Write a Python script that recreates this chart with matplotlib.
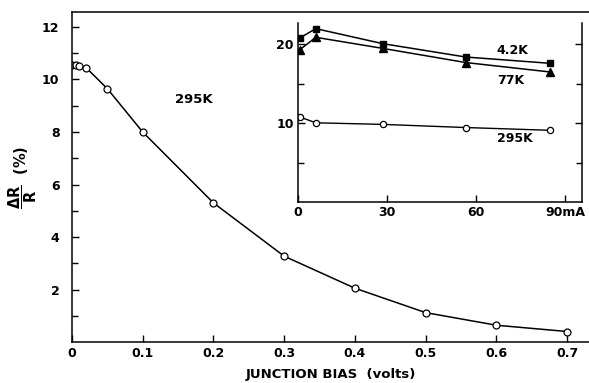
import matplotlib
matplotlib.use("Agg")
import matplotlib.pyplot as plt

# main curve, 295K
bias = [0.0, 0.005, 0.01, 0.02, 0.05, 0.1, 0.2, 0.3, 0.4, 0.5, 0.6, 0.7]
dr_295 = [10.55, 10.55, 10.5, 10.45, 9.65, 8.0, 5.3, 3.27, 2.05, 1.12, 0.64, 0.4]

# inset, current in mA
current = [0.5, 6.0, 28.5, 56.5, 85.0]
ins_42 = [20.8, 22.0, 20.1, 18.4, 17.6]
ins_77 = [19.3, 20.9, 19.5, 17.7, 16.5]
ins_295 = [10.8, 10.05, 9.85, 9.45, 9.1]

x_ticks = [0, 0.1, 0.2, 0.3, 0.4, 0.5, 0.6, 0.7]
x_labels = ["0", "0.1", "0.2", "0.3", "0.4", "0.5", "0.6", "0.7"]
ins_ticks = [0, 30, 60, 90]
ins_labels = ["0", "30", "60", "90mA"]

plt.rcParams["font.family"] = "DejaVu Sans"

fig = plt.figure(figsize=(5.89, 3.83), dpi=100)
ax = fig.add_axes([0.1222, 0.107, 0.8778, 0.8616])

ax.plot(bias, dr_295, color="black", lw=1.1, marker="o", ms=5,
        mfc="white", mec="black", mew=0.9)
ax.set_xlim(0, 0.731)
ax.set_ylim(0, 12.57)
ax.set_xticks(x_ticks)
ax.set_xticklabels(x_labels, fontweight="bold")
ax.set_yticks([2, 4, 6, 8, 10, 12])
ax.set_yticklabels(["2", "4", "6", "8", "10", "12"], fontweight="bold")
ax.set_yticks([1, 3, 5, 7, 9, 11], minor=True)
ax.tick_params(direction="in", length=5, width=1, labelsize=9)
ax.tick_params(which="minor", direction="in", length=4, width=1)
ax.tick_params(axis="y", pad=9)
ax.spines["right"].set_visible(False)
for s in ["left", "bottom", "top"]:
    ax.spines[s].set_linewidth(1.1)
ax.set_xlabel("JUNCTION BIAS  (volts)", fontsize=9.5, fontweight="bold",
              labelpad=6)
ax.set_ylabel(r"$\dfrac{\mathbf{\Delta R}}{\mathbf{R}}$  (%)", fontsize=10.5,
              fontweight="bold", labelpad=2)
ax.text(0.146, 9.25, "295K", fontsize=9.5, fontweight="bold", va="center")

ins = fig.add_axes([0.506, 0.4726, 0.482, 0.467])
ins.plot(current, ins_42, color="black", lw=1.1, marker="s", ms=5)
ins.plot(current, ins_77, color="black", lw=1.1, marker="^", ms=5.5)
ins.plot(current, ins_295, color="black", lw=1.0, marker="o", ms=4.5,
         mfc="white", mec="black", mew=0.9)
ins.set_xlim(0, 95.7)
ins.set_ylim(0, 22.7)
ins.set_xticks(ins_ticks)
ins.set_xticklabels(ins_labels, fontweight="bold")
ins.set_yticks([10, 20])
ins.set_yticklabels(["10", "20"], fontweight="bold")
ins.set_yticks([5, 15], minor=True)
ins.tick_params(direction="in", length=5, width=1, labelsize=9,
                right=True, pad=3)
ins.tick_params(which="minor", direction="in", length=4, width=1, right=True)
ins.spines["top"].set_visible(False)
for s in ["left", "bottom", "right"]:
    ins.spines[s].set_linewidth(1.1)
ins.text(67, 19.2, "4.2K", fontsize=9, fontweight="bold", va="center")
ins.text(67, 15.4, "77K", fontsize=9, fontweight="bold", va="center")
ins.text(67, 8.1, "295K", fontsize=9, fontweight="bold", va="center")

fig.savefig("out.png", dpi=100)
